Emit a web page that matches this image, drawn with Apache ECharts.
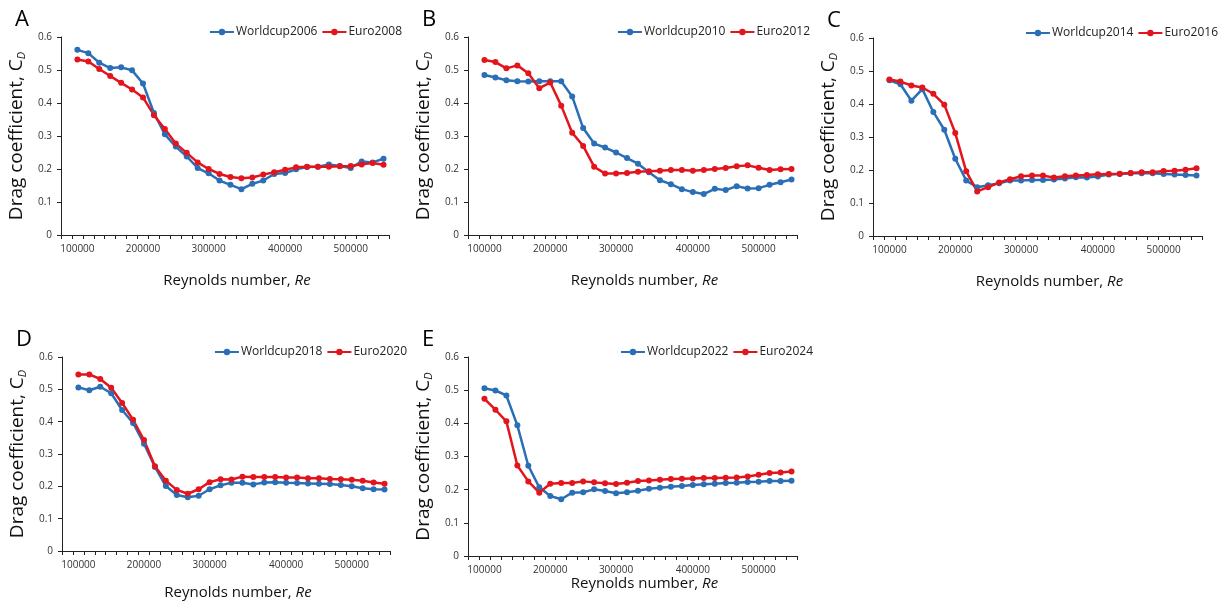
<!DOCTYPE html>
<html>
<head>
<meta charset="utf-8">
<title>Drag coefficient vs Reynolds number</title>
<script src="https://cdn.jsdelivr.net/npm/echarts@6/dist/echarts.min.js"></script>
<style>
  html, body { margin: 0; padding: 0; background: #fff; }
  #chart { width: 1228px; height: 601px; }
</style>
</head>
<body>
<div id="chart"></div>
<script>
// Reynolds number categories (first one has no measurement)
const reValues = [83929, 100000, 116071, 132143, 148214, 164286, 180357, 196429, 212500, 228571,
  244643, 260714, 276786, 292857, 308929, 325000, 341071, 357143, 373214, 389286,
  405357, 421429, 437500, 453571, 469643, 485714, 501786, 517857, 533929, 550000];

const panelLetters = ['A', 'B', 'C', 'D', 'E'];
const worldcupNames = ['Worldcup2006', 'Worldcup2010', 'Worldcup2014', 'Worldcup2018', 'Worldcup2022'];
const euroNames = ['Euro2008', 'Euro2012', 'Euro2016', 'Euro2020', 'Euro2024'];

const worldcup2006 = [0.561, 0.551, 0.522, 0.506, 0.508, 0.499, 0.459, 0.37, 0.305, 0.268, 0.238, 0.203, 0.187, 0.165, 0.152,
  0.139, 0.155, 0.165, 0.185, 0.188, 0.199, 0.206, 0.207, 0.214, 0.209, 0.203, 0.223, 0.22, 0.231];
const euro2008 = [0.532, 0.526, 0.503, 0.482, 0.461, 0.441, 0.417, 0.363, 0.321, 0.277, 0.249, 0.22, 0.2, 0.185, 0.176,
  0.172, 0.174, 0.183, 0.19, 0.198, 0.205, 0.207, 0.207, 0.207, 0.208, 0.209, 0.214, 0.218, 0.213];

const worldcup2010 = [0.485, 0.477, 0.469, 0.466, 0.465, 0.466, 0.466, 0.466, 0.42, 0.324, 0.277, 0.265, 0.25, 0.233, 0.216,
  0.19, 0.166, 0.154, 0.139, 0.13, 0.124, 0.14, 0.136, 0.148, 0.141, 0.142, 0.152, 0.16, 0.168];
const euro2012 = [0.53, 0.524, 0.505, 0.514, 0.49, 0.445, 0.462, 0.392, 0.31, 0.27, 0.207, 0.186, 0.186, 0.188, 0.192,
  0.193, 0.195, 0.197, 0.197, 0.195, 0.197, 0.2, 0.203, 0.208, 0.211, 0.204, 0.197, 0.199, 0.2];

const worldcup2014 = [0.472, 0.46, 0.41, 0.445, 0.376, 0.322, 0.234, 0.168, 0.148, 0.154, 0.16, 0.168, 0.168, 0.17, 0.17,
  0.171, 0.174, 0.178, 0.177, 0.18, 0.186, 0.188, 0.19, 0.19, 0.19, 0.188, 0.186, 0.185, 0.183];
const euro2016 = [0.474, 0.468, 0.456, 0.45, 0.431, 0.398, 0.312, 0.196, 0.135, 0.148, 0.162, 0.172, 0.181, 0.183, 0.183,
  0.177, 0.181, 0.183, 0.185, 0.187, 0.188, 0.189, 0.191, 0.193, 0.193, 0.197, 0.198, 0.201, 0.205];

const worldcup2018 = [0.506, 0.497, 0.508, 0.488, 0.436, 0.396, 0.332, 0.26, 0.201, 0.173, 0.166, 0.171, 0.191, 0.203, 0.211,
  0.211, 0.206, 0.212, 0.213, 0.211, 0.21, 0.209, 0.208, 0.207, 0.204, 0.2, 0.194, 0.191, 0.19];
const euro2020 = [0.546, 0.546, 0.532, 0.505, 0.458, 0.406, 0.343, 0.262, 0.217, 0.189, 0.177, 0.191, 0.213, 0.222, 0.221,
  0.23, 0.229, 0.229, 0.229, 0.227, 0.227, 0.225, 0.225, 0.223, 0.222, 0.22, 0.217, 0.212, 0.208];

const worldcup2022 = [0.506, 0.499, 0.484, 0.394, 0.272, 0.207, 0.181, 0.171, 0.191, 0.192, 0.201, 0.196, 0.189, 0.192, 0.197,
  0.203, 0.206, 0.209, 0.211, 0.214, 0.216, 0.218, 0.22, 0.221, 0.223, 0.224, 0.226, 0.226, 0.227];
const euro2024 = [0.474, 0.441, 0.406, 0.273, 0.225, 0.191, 0.218, 0.22, 0.22, 0.225, 0.222, 0.219, 0.217, 0.221, 0.226,
  0.228, 0.23, 0.232, 0.233, 0.234, 0.235, 0.235, 0.236, 0.237, 0.24, 0.245, 0.25, 0.252, 0.255];

const worldcupData = [worldcup2006, worldcup2010, worldcup2014, worldcup2018, worldcup2022];
const euroData = [euro2008, euro2012, euro2016, euro2020, euro2024];

const BLUE = '#2a6fb5';
const RED = '#e3141c';
const FONT = '"Open Sans", sans-serif';

// pixel boxes of each plot area [left, top, width, height]
const boxes = [
  [61, 37, 328, 198],
  [468, 37, 329, 198],
  [873, 38, 329, 198],
  [62, 357, 328, 199],
  [468, 357, 329, 199]
];
const xNameGaps = [38, 38, 38, 34, 20];
const legendRight = [826, 418, 10, 821, 415];

function setChart() {
  const chart = echarts.init(document.getElementById('chart'));

  const grid = [], xAxis = [], yAxis = [], series = [], legend = [], title = [];

  boxes.forEach((b, i) => {
    grid.push({ left: b[0], top: b[1], width: b[2], height: b[3] });

    title.push({
      text: panelLetters[i],
      left: b[0] - 51,
      top: b[1] - 33,
      textStyle: { fontFamily: FONT, fontSize: 22, fontWeight: 'normal', color: '#000' }
    });

    legend.push({
      data: [worldcupNames[i], euroNames[i]],
      right: legendRight[i],
      top: b[1] - 11,
      padding: 0,
      itemWidth: 24,
      itemHeight: 8,
      itemGap: 4,
      textStyle: { fontFamily: FONT, fontSize: 12, color: '#222', padding: [0, 0, 0, -3] }
    });

    xAxis.push({
      type: 'category',
      gridIndex: i,
      data: reValues,
      boundaryGap: true,
      name: 'Reynolds number, {i|Re}',
      nameLocation: 'middle',
      nameGap: xNameGaps[i],
      nameTextStyle: {
        fontFamily: FONT, fontSize: 15, color: '#111', padding: [0, 0, 0, 24],
        rich: { i: { fontFamily: FONT, fontSize: 15, fontStyle: 'italic', color: '#111' } }
      },
      axisLine: { lineStyle: { color: '#222', width: 1 } },
      axisTick: { show: true, interval: 0, length: 4, lineStyle: { color: '#222' } },
      axisLabel: {
        interval: 0,
        margin: 9,
        fontFamily: FONT,
        fontSize: 10,
        color: '#333',
        formatter: (v) => {
          const n = Number(v);
          const r = Math.round(n / 100000) * 100000;
          return Math.abs(n - r) < 8036 ? String(r) : '';
        }
      },
      splitLine: { show: false }
    });

    yAxis.push({
      type: 'value',
      gridIndex: i,
      min: 0,
      max: 0.6,
      interval: 0.1,
      name: 'Drag coefficient, {c|C}{sub|D}',
      nameLocation: 'middle',
      nameGap: 34,
      nameTextStyle: {
        fontFamily: FONT, fontSize: 19, color: '#111',
        rich: {
          c: { fontFamily: FONT, fontSize: 19, color: '#111' },
          sub: { fontFamily: FONT, fontSize: 11, fontStyle: 'italic', color: '#111', padding: [9, 0, 0, 0] }
        }
      },
      axisLine: { show: true, lineStyle: { color: '#222', width: 1 } },
      axisTick: { show: true, length: 4, lineStyle: { color: '#222' } },
      axisLabel: { margin: 9, fontFamily: FONT, fontSize: 10, color: '#333' },
      splitLine: { show: false }
    });

    series.push({
      name: worldcupNames[i],
      type: 'line',
      xAxisIndex: i,
      yAxisIndex: i,
      data: [null].concat(worldcupData[i]),
      symbol: 'circle',
      symbolSize: 6,
      lineStyle: { color: BLUE, width: 2.5 },
      itemStyle: { color: BLUE },
      emphasis: { disabled: true }
    });
    series.push({
      name: euroNames[i],
      type: 'line',
      xAxisIndex: i,
      yAxisIndex: i,
      data: [null].concat(euroData[i]),
      symbol: 'circle',
      symbolSize: 6,
      lineStyle: { color: RED, width: 2.5 },
      itemStyle: { color: RED },
      emphasis: { disabled: true }
    });
  });

  chart.setOption({
    animation: false,
    backgroundColor: '#fff',
    title, legend, grid, xAxis, yAxis, series
  });
}

setChart();
</script>
</body>
</html>
